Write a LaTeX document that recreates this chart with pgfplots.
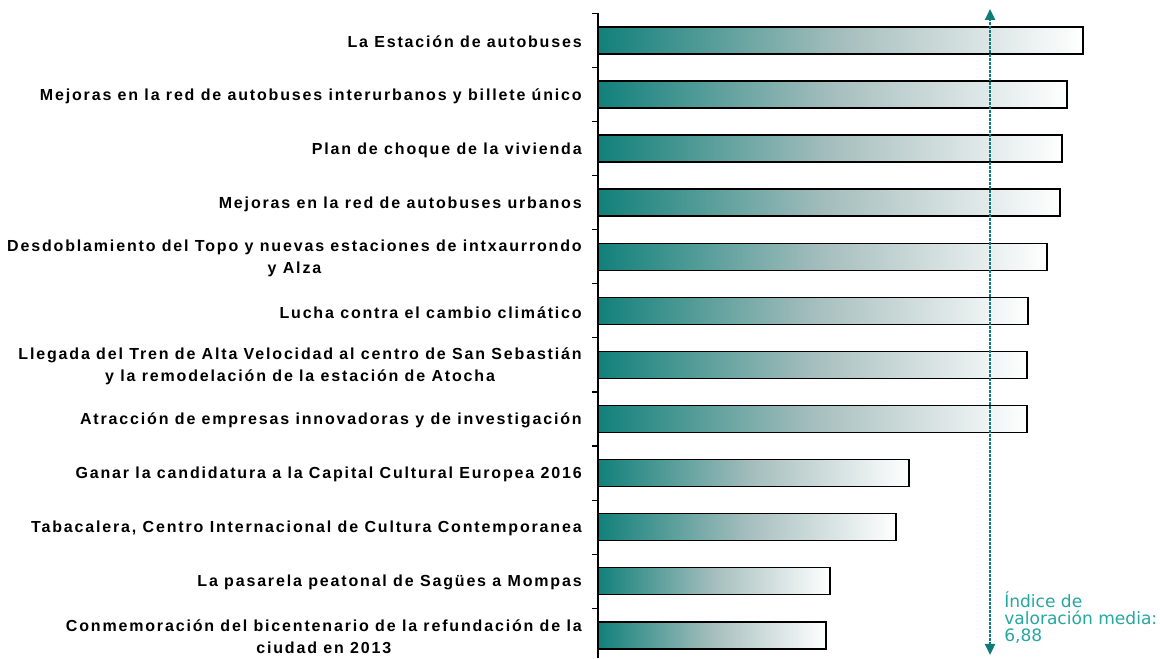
\documentclass[border=0pt]{standalone}
\usepackage{fontspec}
\setmainfont{Liberation Sans}
\newfontfamily\lblfont[LetterSpace=11.5]{Liberation Sans}
\newfontfamily\notefont{DejaVu Sans}
\usepackage{pgfplots}
\pgfplotsset{compat=1.18}
\usetikzlibrary{arrows.meta}
\definecolor{barteal}{RGB}{18,128,122}
\definecolor{barmid}{RGB}{165,190,189}
\definecolor{arrowteal}{RGB}{14,124,118}
\definecolor{textteal}{RGB}{38,166,160}
\pgfplotsset{gbar/.style={xbar, bar width=20.25pt, draw=black, line width=1.1pt,
  left color=barteal, right color=white, middle color=barmid}}
\begin{document}
\begin{tikzpicture}
\begin{axis}[
  scale only axis,
  width=406pt, height=483.4pt,
  xmin=0, xmax=9.5,
  ymin=-0.42, ymax=11.5,
  clip=false,
  axis x line=none,
  axis y line*=left,
  y axis line style={line width=1.1pt, black},
  ytick={0,...,11},
  minor ytick={0.5,1.5,...,11.5},
  major tick length=0pt,
  minor tick length=4.5pt,
  tick align=outside,
  minor tick style={line width=0.9pt, black},
  yticklabel style={font=\lblfont\bfseries\fontsize{12pt}{16.3pt}\selectfont, align=center, inner sep=0pt, anchor=east, yshift=-1.2pt},
  yticklabel shift=12pt,
  yticklabels={
    {Conmemoración del bicentenario de la refundación de la\\ciudad en 2013},
    {La pasarela peatonal de Sagües a Mompas},
    {Tabacalera, Centro Internacional de Cultura Contemporanea},
    {Ganar la candidatura a la Capital Cultural Europea 2016},
    {Atracción de empresas innovadoras y de investigación},
    {Llegada del Tren de Alta Velocidad al centro de San Sebastián\\y la remodelación de la estación de Atocha},
    {Lucha contra el cambio climático},
    {Desdoblamiento del Topo y nuevas estaciones de intxaurrondo\\y Alza},
    {Mejoras en la red de autobuses urbanos},
    {Plan de choque de la vivienda},
    {Mejoras en la red de autobuses interurbanos y billete único},
    {La Estación de autobuses}
  },
]
\addplot[gbar] coordinates {(4.00,0)};
\addplot[gbar] coordinates {(4.07,1)};
\addplot[gbar] coordinates {(5.23,2)};
\addplot[gbar] coordinates {(5.46,3)};
\addplot[gbar] coordinates {(7.53,4)};
\addplot[gbar] coordinates {(7.53,5)};
\addplot[gbar] coordinates {(7.55,6)};
\addplot[gbar] coordinates {(7.88,7)};
\addplot[gbar] coordinates {(8.11,8)};
\addplot[gbar] coordinates {(8.14,9)};
\addplot[gbar] coordinates {(8.23,10)};
\addplot[gbar] coordinates {(8.51,11)};
\addplot[draw=arrowteal, line width=1.6pt, dash pattern=on 1.9pt off 1.1pt,
  {Triangle[width=7.5pt,length=8.25pt,fill=arrowteal]}-{Triangle[width=7.5pt,length=8.25pt,fill=arrowteal]}]
  coordinates {(6.88,-0.364) (6.88,11.583)};
\node[anchor=north west, inner sep=0pt, align=left, text=textteal,
  font=\notefont\fontsize{12.8pt}{12.75pt}\selectfont]
  at (axis cs:7.125,0.819) {Índice de\\valoración media:\\6,88};
\end{axis}
\pgfresetboundingbox
\path[use as bounding box] (-448.5pt,0pt) rectangle (421.5pt,493.5pt);
\end{tikzpicture}
\end{document}
